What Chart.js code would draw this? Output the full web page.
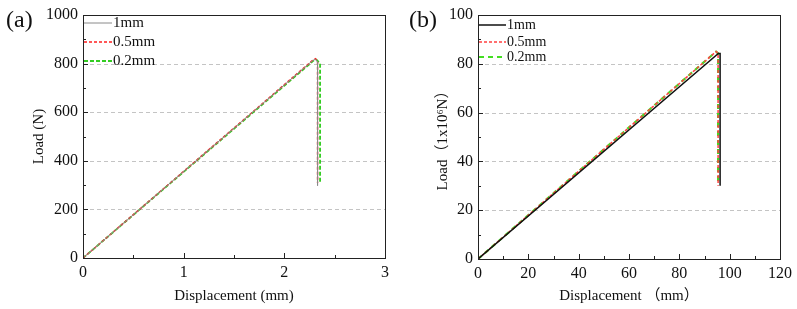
<!DOCTYPE html>
<html>
<head>
<meta charset="utf-8">
<script src="https://cdn.jsdelivr.net/npm/chart.js@4"></script>
<style>
    html, body { margin: 0; padding: 0; background: #fff; }
    .panel { position: absolute; top: 0; height: 309px; }
    #panelA { left: 0; width: 400px; }
    #panelB { left: 400px; width: 397px; }
    .tag { position: absolute; top: 6px; font: 24px "Liberation Serif", serif; color: #111; }
</style>
</head>
<body>
<div class="panel" id="panelA"><canvas id="chartA" width="400" height="309"></canvas><span class="tag" style="left:6px">(a)</span></div>
<div class="panel" id="panelB"><canvas id="chartB" width="397" height="309"></canvas><span class="tag" style="left:9px">(b)</span></div>
<script>
// (a) small specimen, load in N
const seriesLabels = ["1mm", "0.5mm", "0.2mm"];
const dispA1 = [0, 2.28, 2.31, 2.33, 2.33];
const loadA1 = [0, 812, 818, 806, 298];
const dispA2 = [0, 2.28, 2.31, 2.33, 2.33];
const loadA2 = [0, 813, 820, 808, 310];
const dispA3 = [0, 2.29, 2.32, 2.355, 2.355];
const loadA3 = [0, 812, 816, 800, 312];
const xTicksA = [0, 1, 2, 3];
const yTicksA = [0, 200, 400, 600, 800, 1000];

// (b) full-scale, load in 1x10^6 N
const dispB1 = [0, 95.5, 96.2, 96.2];
const loadB1 = [0, 84.2, 84.2, 30];
const dispB2 = [0, 94.6, 95.4, 95.4];
const loadB2 = [0, 85, 84.3, 30];
const dispB3 = [0, 94.6, 95.4, 95.4];
const loadB3 = [0, 85, 84.3, 30.5];
const xTicksB = [0, 20, 40, 60, 80, 100, 120];
const yTicksB = [0, 20, 40, 60, 80, 100];

const serif = "'Liberation Serif', 'Noto Sans CJK SC', serif";

function toPoints(xs, ys) {
    return xs.map((x, i) => ({ x, y: ys[i] }));
}

// dashed grid, frame, inward ticks, legend
const decorPlugin = {
    id: "decor",
    beforeDatasetsDraw(chart, args, opts) {
        const { ctx, chartArea: a, scales } = chart;
        ctx.save();
        ctx.strokeStyle = "#c4c4c4";
        ctx.lineWidth = 1;
        ctx.setLineDash([4, 3]);
        opts.yTicks.slice(1, -1).forEach((v) => {
            const y = Math.round(scales.y.getPixelForValue(v)) + 0.5;
            ctx.beginPath();
            ctx.moveTo(a.left, y);
            ctx.lineTo(a.right, y);
            ctx.stroke();
        });
        ctx.restore();
    },
    afterDatasetsDraw(chart, args, opts) {
        const { ctx, chartArea: a, scales } = chart;
        ctx.save();
        ctx.setLineDash([]);
        ctx.strokeStyle = "#222";
        ctx.lineWidth = 1;
        ctx.strokeRect(Math.round(a.left) + 0.5, Math.round(a.top) + 0.5,
            Math.round(a.right - a.left), Math.round(a.bottom - a.top));

        const xs = opts.xTicks, ys = opts.yTicks;
        const xMinor = (xs[1] - xs[0]) / 2, yMinor = (ys[1] - ys[0]) / 2;
        ctx.beginPath();
        for (let v = xs[0]; v <= xs[xs.length - 1] + 1e-9; v += xMinor) {
            const major = Math.abs(Math.round(v / (xs[1] - xs[0])) * (xs[1] - xs[0]) - v) < 1e-9;
            const x = Math.round(scales.x.getPixelForValue(v)) + 0.5;
            ctx.moveTo(x, a.bottom);
            ctx.lineTo(x, a.bottom - (major ? 5 : 3));
        }
        for (let v = ys[0]; v <= ys[ys.length - 1] + 1e-9; v += yMinor) {
            const major = Math.abs(Math.round(v / (ys[1] - ys[0])) * (ys[1] - ys[0]) - v) < 1e-9;
            const y = Math.round(scales.y.getPixelForValue(v)) + 0.5;
            ctx.moveTo(a.left, y);
            ctx.lineTo(a.left + (major ? 5 : 3), y);
        }
        ctx.stroke();

        // legend
        ctx.font = opts.legendSize + "px " + serif;
        ctx.textBaseline = "middle";
        ctx.fillStyle = "#111";
        chart.data.datasets.forEach((ds, i) => {
            const y = opts.legendY[i];
            ctx.strokeStyle = ds.borderColor;
            ctx.lineWidth = ds.borderWidth;
            ctx.setLineDash(ds.borderDash || []);
            ctx.beginPath();
            ctx.moveTo(a.left + 1, y);
            ctx.lineTo(a.left + opts.legendLen, y);
            ctx.stroke();
            ctx.fillText(ds.label, a.left + opts.legendLen + 1, y);
        });
        ctx.restore();
    }
};

function makeChart(id, cfg) {
    return new Chart(document.getElementById(id), {
        type: "line",
        data: { datasets: cfg.datasets },
        options: {
            responsive: false,
            animation: false,
            layout: { padding: { top: 15, right: cfg.padRight, left: 0, bottom: 0 } },
            elements: { point: { radius: 0 }, line: { tension: 0 } },
            plugins: {
                legend: { display: false },
                tooltip: { enabled: false },
                decor: cfg.decor
            },
            scales: {
                x: {
                    type: "linear",
                    min: cfg.xTicks[0],
                    max: cfg.xTicks[cfg.xTicks.length - 1],
                    afterBuildTicks: (s) => { s.ticks = cfg.xTicks.map((v) => ({ value: v })); },
                    afterFit: (s) => { s.height = cfg.xHeight; },
                    grid: { display: false, drawTicks: false, tickLength: 0 },
                    border: { display: false },
                    ticks: { color: "#111", padding: 5, maxRotation: 0, font: { family: serif, size: 16 }, callback: (v) => String(v) },
                    title: { display: true, text: cfg.xTitle, color: "#111", padding: { bottom: 4, top: 0 }, font: { family: serif, size: 15 } }
                },
                y: {
                    type: "linear",
                    min: cfg.yTicks[0],
                    max: cfg.yTicks[cfg.yTicks.length - 1],
                    afterBuildTicks: (s) => { s.ticks = cfg.yTicks.map((v) => ({ value: v })); },
                    afterFit: (s) => { s.width = cfg.yWidth; },
                    grid: { display: false, drawTicks: false, tickLength: 0 },
                    border: { display: false },
                    ticks: { color: "#111", padding: 5, font: { family: serif, size: 16 }, callback: (v) => String(v) },
                    title: { display: true, text: cfg.yTitle, color: "#111", padding: { top: cfg.yTitlePad, bottom: 0 }, font: { family: serif, size: 15 } }
                }
            }
        },
        plugins: [decorPlugin]
    });
}

makeChart("chartA", {
    xTicks: xTicksA, yTicks: yTicksA,
    xTitle: "Displacement (mm)", yTitle: "Load (N)",
    yWidth: 83, xHeight: 51, padRight: 15, yTitlePad: 30,
    decor: { xTicks: xTicksA, yTicks: yTicksA, legendY: [23, 42, 61], legendLen: 29, legendSize: 15 },
    datasets: [
        { label: seriesLabels[0], data: toPoints(dispA1, loadA1), borderColor: "#8a8a8a", borderWidth: 1 },
        { label: seriesLabels[1], data: toPoints(dispA2, loadA2), borderColor: "#ff2020", borderWidth: 1.5, borderDash: [3, 2] },
        { label: seriesLabels[2], data: toPoints(dispA3, loadA3), borderColor: "#33cc22", borderWidth: 1.8, borderDash: [4, 2] }
    ]
});

makeChart("chartB", {
    xTicks: xTicksB, yTicks: yTicksB,
    xTitle: "Displacement （mm）", yTitle: "Load（1x10⁶N）",
    yWidth: 78, xHeight: 50, padRight: 16, yTitlePad: 34,
    decor: { xTicks: xTicksB, yTicks: yTicksB, legendY: [25, 42, 57], legendLen: 28, legendSize: 14 },
    datasets: [
        { label: seriesLabels[0], data: toPoints(dispB1, loadB1), borderColor: "#111111", borderWidth: 1.5 },
        { label: seriesLabels[1], data: toPoints(dispB2, loadB2), borderColor: "#ff4040", borderWidth: 1.5, borderDash: [3, 2] },
        { label: seriesLabels[2], data: toPoints(dispB3, loadB3), borderColor: "#44dd22", borderWidth: 2.2, borderDash: [5, 4] }
    ]
});
</script>
</body>
</html>
